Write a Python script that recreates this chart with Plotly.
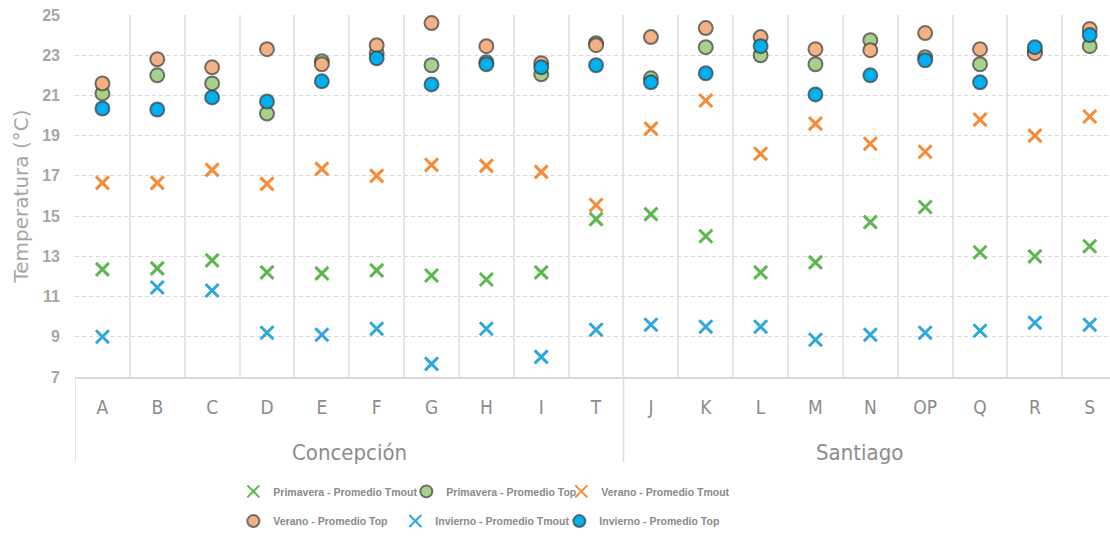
import plotly.graph_objects as go

# Sites (Concepción: A..T, Santiago: J..S)
categories = ["A", "B", "C", "D", "E", "F", "G", "H", "I", "T",
              "J", "K", "L", "M", "N", "OP", "Q", "R", "S"]
group_names = ["Concepción", "Santiago"]
group_sizes = [10, 9]

# Mean temperatures (°C) per season
prim_tmout = [12.35, 12.4, 12.8, 12.2, 12.15, 12.3, 12.05, 11.85, 12.2, 14.85,
              15.1, 14.0, 12.2, 12.7, 14.7, 15.45, 13.2, 13.0, 13.5]
prim_top = [21.1, 22.0, 21.6, 20.1, 22.7, 23.1, 22.5, 22.65, 22.05, 23.6,
            21.85, 23.4, 23.0, 22.55, 23.75, 22.9, 22.55, 23.2, 23.45]
ver_tmout = [16.65, 16.65, 17.3, 16.6, 17.35, 17.0, 17.55, 17.5, 17.2, 15.55,
             19.35, 20.75, 18.1, 19.6, 18.6, 18.2, 19.8, 19.0, 19.95]
ver_top = [21.6, 22.8, 22.4, 23.3, 22.55, 23.5, 24.6, 23.45, 22.6, 23.5,
           23.9, 24.35, 23.9, 23.3, 23.25, 24.1, 23.3, 23.1, 24.3]
inv_tmout = [9.0, 11.45, 11.3, 9.2, 9.1, 9.4, 7.65, 9.4, 8.0, 9.35,
             9.6, 9.5, 9.5, 8.85, 9.1, 9.2, 9.3, 9.7, 9.6]
inv_top = [20.35, 20.3, 20.9, 20.7, 21.7, 22.85, 21.55, 22.55, 22.4, 22.5,
           21.65, 22.1, 23.45, 21.05, 22.0, 22.75, 21.65, 23.4, 24.0]

y_ticks = [7, 9, 11, 13, 15, 17, 19, 21, 23, 25]

GREY_TXT = "#a6a6a6"
NARROW = "DejaVu Sans Condensed, Liberation Sans Narrow, sans-serif"
LEG_FONT = dict(family="Liberation Sans, Arial, sans-serif",
                size=10.5, color="#8a8a8a", weight="bold")

fig = go.Figure()


def add_cross(name, vals, color, legend, lw):
    fig.add_trace(go.Scatter(
        x=categories, y=vals, mode="markers", name=name,
        legend=legend, legendwidth=lw,
        marker=dict(symbol="x-thin", size=13, color=color,
                    line=dict(color=color, width=3)),
    ))


def add_dot(name, vals, color, legend, lw):
    fig.add_trace(go.Scatter(
        x=categories, y=vals, mode="markers", name=name,
        legend=legend, legendwidth=lw,
        marker=dict(symbol="circle", size=14, color=color,
                    line=dict(color="rgba(60,60,60,0.7)", width=2)),
    ))


add_cross("Primavera - Promedio Tmout", prim_tmout, "#5cb84e", "legend", 128)
add_dot("Primavera - Promedio Top", prim_top, "#a9d18e", "legend", 110)
add_cross("Verano - Promedio Tmout", ver_tmout, "#f78a34", "legend", 140)
add_dot("Verano - Promedio Top", ver_top, "#f4b183", "legend2", 117)
add_cross("Invierno - Promedio Tmout", inv_tmout, "#2ea6de", "legend2", 119)
add_dot("Invierno - Promedio Top", inv_top, "#00b0f0", "legend2", 130)

# Group dividers and group labels under the category labels
label_x = [4.5, 13.8]
start = 0
for name, n, lx in zip(group_names, group_sizes, label_x):
    fig.add_shape(type="line", xref="x", yref="paper",
                  x0=start - 0.5, x1=start - 0.5, y0=0, y1=-0.236,
                  line=dict(color="#dcdcdc", width=1.5), layer="below")
    fig.add_annotation(xref="x", yref="paper", x=lx, y=-0.208,
                       yanchor="middle", showarrow=False, text=name,
                       font=dict(family=NARROW, size=22, color="#8c8c8c"))
    start += n
fig.add_shape(type="line", xref="x", yref="paper",
              x0=start - 0.5, x1=start - 0.5, y0=0, y1=-0.236,
              line=dict(color="#dcdcdc", width=1.5), layer="below")

fig.update_layout(
    width=1110, height=536,
    margin=dict(l=75, r=0, t=15, b=157),
    paper_bgcolor="white", plot_bgcolor="white",
    showlegend=True,
    legend=dict(orientation="h", x=0.153, xanchor="left", y=-0.316, yanchor="middle",
                font=LEG_FONT, bgcolor="rgba(0,0,0,0)", itemsizing="constant",
                traceorder="normal"),
    legend2=dict(orientation="h", x=0.153, xanchor="left", y=-0.398, yanchor="middle",
                 font=LEG_FONT, bgcolor="rgba(0,0,0,0)", itemsizing="constant",
                 traceorder="normal"),
    xaxis=dict(
        type="category", categoryorder="array", categoryarray=categories,
        range=[-0.5, 18.37], tickson="boundaries", ticks="",
        showgrid=True, gridcolor="#e6e6e6", gridwidth=1.5,
        showline=True, linecolor="#d9d9d9", linewidth=1.5,
        tickfont=dict(family=NARROW, size=19, color="#8c8c8c"),
        ticklabelstandoff=12,
        zeroline=False,
    ),
    yaxis=dict(
        range=[7, 25], tickvals=y_ticks,
        showgrid=True, gridcolor="#d9d9d9", gridwidth=1, griddash="4px,3px",
        zeroline=False, showline=False, ticks="",
        tickfont=dict(family="Liberation Sans, Arial, sans-serif", size=16,
                      color=GREY_TXT, weight="bold"),
        ticklabelstandoff=14,
        title=dict(text="Temperatura (°C)", standoff=8,
                   font=dict(family="DejaVu Sans, sans-serif", size=20, color=GREY_TXT)),
    ),
)

fig.write_html("out.html")
